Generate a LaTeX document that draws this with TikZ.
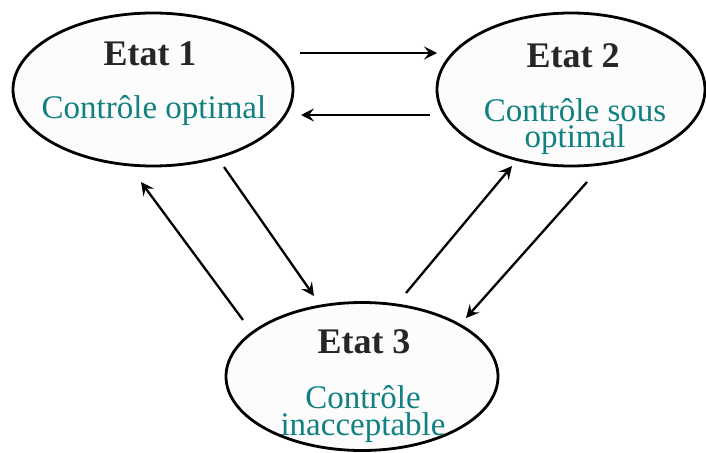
\documentclass[tikz,border=0pt]{standalone}
\usepackage{fontspec}
\setmainfont{Liberation Serif}
\usetikzlibrary{shapes.geometric,arrows.meta}
\definecolor{tealtxt}{RGB}{16,128,128}
\definecolor{ellfill}{RGB}{252,252,252}
\tikzset{
  stateell/.style={ellipse, draw=black, line width=2.8pt, fill=ellfill, inner sep=0pt},
  titletxt/.style={anchor=base, inner sep=0pt, font=\fontsize{36}{36}\selectfont\bfseries, text=black!85},
  desctxt/.style={anchor=base, inner sep=0pt, font=\fontsize{33}{33}\selectfont, text=tealtxt},
  arr/.style={line width=2.3pt, -{Stealth[length=13pt,width=13pt,inset=5pt]}}
}
\begin{document}
\begin{tikzpicture}[x=1pt,y=-1pt]
\useasboundingbox (0,0) rectangle (706,452);
% ellipses
\node[stateell, minimum width=280pt, minimum height=153pt] (e1) at (153,89.5) {};
\node[stateell, minimum width=268pt, minimum height=153pt] (e2) at (571,89.5) {};
\node[stateell, minimum width=272pt, minimum height=148pt] (e3) at (362,376.5) {};
% texts
\node[titletxt] (t1) at (150,65) {Etat 1};
\node[desctxt] (d1) at (154,118) {Contrôle optimal};
\node[titletxt] (t2) at (573,67) {Etat 2};
\node[desctxt] (d2a) at (575,121) {Contrôle sous};
\node[desctxt] (d2b) at (575,147) {optimal};
\node[titletxt] (t3) at (364,353) {Etat 3};
\node[desctxt] (d3a) at (363,408) {Contrôle};
\node[desctxt] (d3b) at (363,435) {inacceptable};
% arrow ends
\coordinate (a1s) at (300,53);  \coordinate (a1e) at (437,53);
\coordinate (a2s) at (430,115); \coordinate (a2e) at (301,115);
\coordinate (a3s) at (243,320); \coordinate (a3e) at (141,182);
\coordinate (a4s) at (224,167); \coordinate (a4e) at (314,296);
\coordinate (a5s) at (406,293); \coordinate (a5e) at (512,166);
\coordinate (a6s) at (587,182); \coordinate (a6e) at (466,318);
\draw[arr] (a1s) -- (a1e);
\draw[arr] (a2s) -- (a2e);
\draw[arr] (a3s) -- (a3e);
\draw[arr] (a4s) -- (a4e);
\draw[arr] (a5s) -- (a5e);
\draw[arr] (a6s) -- (a6e);
\end{tikzpicture}
\end{document}
